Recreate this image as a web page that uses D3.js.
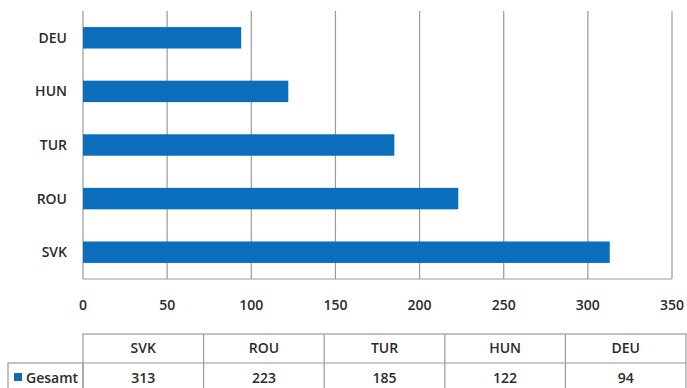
<!DOCTYPE html>
<html>
<head>
<meta charset="utf-8">
<script src="https://cdn.jsdelivr.net/npm/d3@7"></script>
<style>
  html, body { margin: 0; padding: 0; background: #fff; }
  svg { display: block; font-family: "Open Sans", sans-serif; }
</style>
</head>
<body>
<div id="chart"></div>
<script>
// Daten
const categories = ["SVK", "ROU", "TUR", "HUN", "DEU"];
const values = [313, 223, 185, 122, 94];
const xTicks = [0, 50, 100, 150, 200, 250, 300, 350];
const seriesName = "Gesamt";

const width = 687, height = 388;
const barColor = "#0a6ebd";
const gridColor = "#9a9a9a";
const textColor = "#2b2b2b";
const fontSize = "14px";

const svg = d3.select("#chart").append("svg")
  .attr("width", width)
  .attr("height", height);

// Skalen
const x = d3.scaleLinear().domain([0, 350]).range([83, 672]);
const y = d3.scaleBand()
  .domain(categories.slice().reverse())
  .range([11, 279])
  .paddingInner(0.6)
  .paddingOuter(0.3);

// Gitterlinien
svg.append("g")
  .selectAll("line")
  .data(xTicks)
  .enter().append("line")
  .attr("x1", d => x(d)).attr("x2", d => x(d))
  .attr("y1", 11).attr("y2", 279)
  .style("stroke", gridColor)
  .style("stroke-width", 1.2);

// untere Achsenlinie
svg.append("line")
  .attr("x1", x(0)).attr("x2", x(350))
  .attr("y1", 279).attr("y2", 279)
  .style("stroke", gridColor)
  .style("stroke-width", 1.2);

// Balken
const data = categories.map((c, i) => ({ cat: c, val: values[i] }));
svg.append("g")
  .selectAll("rect")
  .data(data)
  .enter().append("rect")
  .attr("x", x(0))
  .attr("y", d => y(d.cat))
  .attr("width", d => x(d.val) - x(0))
  .attr("height", y.bandwidth())
  .style("fill", barColor);

// Kategorienbeschriftung
svg.append("g")
  .selectAll("text")
  .data(categories)
  .enter().append("text")
  .attr("x", 67)
  .attr("y", d => y(d) + y.bandwidth() / 2)
  .attr("dy", "0.35em")
  .attr("text-anchor", "end")
  .style("font-size", fontSize)
  .style("font-weight", 600)
  .style("fill", textColor)
  .text(d => d);

// x-Achsenbeschriftung
svg.append("g")
  .selectAll("text")
  .data(xTicks)
  .enter().append("text")
  .attr("x", d => x(d))
  .attr("y", 305)
  .attr("dy", "0.35em")
  .attr("text-anchor", "middle")
  .style("font-size", fontSize)
  .style("font-weight", 600)
  .style("fill", textColor)
  .text(d => d);

// Datentabelle
const col = d3.scaleBand().domain(categories).range([83, 686]);
const rowTop = 334, rowMid = 363, rowBot = 394;
const table = svg.append("g");

// Rahmen
table.append("rect")
  .attr("x", 83).attr("y", rowTop)
  .attr("width", 686 - 83).attr("height", rowBot - rowTop)
  .style("fill", "none").style("stroke", gridColor).style("stroke-width", 1.2);
table.append("rect")
  .attr("x", 8).attr("y", rowMid)
  .attr("width", 83 - 8).attr("height", rowBot - rowMid)
  .style("fill", "none").style("stroke", gridColor).style("stroke-width", 1.2);
table.append("line")
  .attr("x1", 83).attr("x2", 686)
  .attr("y1", rowMid).attr("y2", rowMid)
  .style("stroke", gridColor).style("stroke-width", 1.2);
table.selectAll(".sep")
  .data(categories.slice(1))
  .enter().append("line")
  .attr("class", "sep")
  .attr("x1", d => col(d)).attr("x2", d => col(d))
  .attr("y1", rowTop).attr("y2", rowBot)
  .style("stroke", gridColor).style("stroke-width", 1.2);

// Kopfzeile
table.selectAll(".head")
  .data(categories)
  .enter().append("text")
  .attr("class", "head")
  .attr("x", d => col(d) + col.bandwidth() / 2)
  .attr("y", 348)
  .attr("dy", "0.35em")
  .attr("text-anchor", "middle")
  .style("font-size", fontSize)
  .style("font-weight", 600)
  .style("fill", textColor)
  .text(d => d);

// Werte
table.selectAll(".val")
  .data(data)
  .enter().append("text")
  .attr("class", "val")
  .attr("x", d => col(d.cat) + col.bandwidth() / 2)
  .attr("y", 378)
  .attr("dy", "0.35em")
  .attr("text-anchor", "middle")
  .style("font-size", fontSize)
  .style("font-weight", 600)
  .style("fill", textColor)
  .text(d => d.val);

// Legende
table.append("rect")
  .attr("x", 14).attr("y", 373)
  .attr("width", 8).attr("height", 8)
  .style("fill", barColor);
table.append("text")
  .attr("x", 26).attr("y", 378)
  .attr("dy", "0.35em")
  .style("font-size", fontSize)
  .style("font-weight", 600)
  .style("fill", textColor)
  .text(seriesName);
</script>
</body>
</html>
